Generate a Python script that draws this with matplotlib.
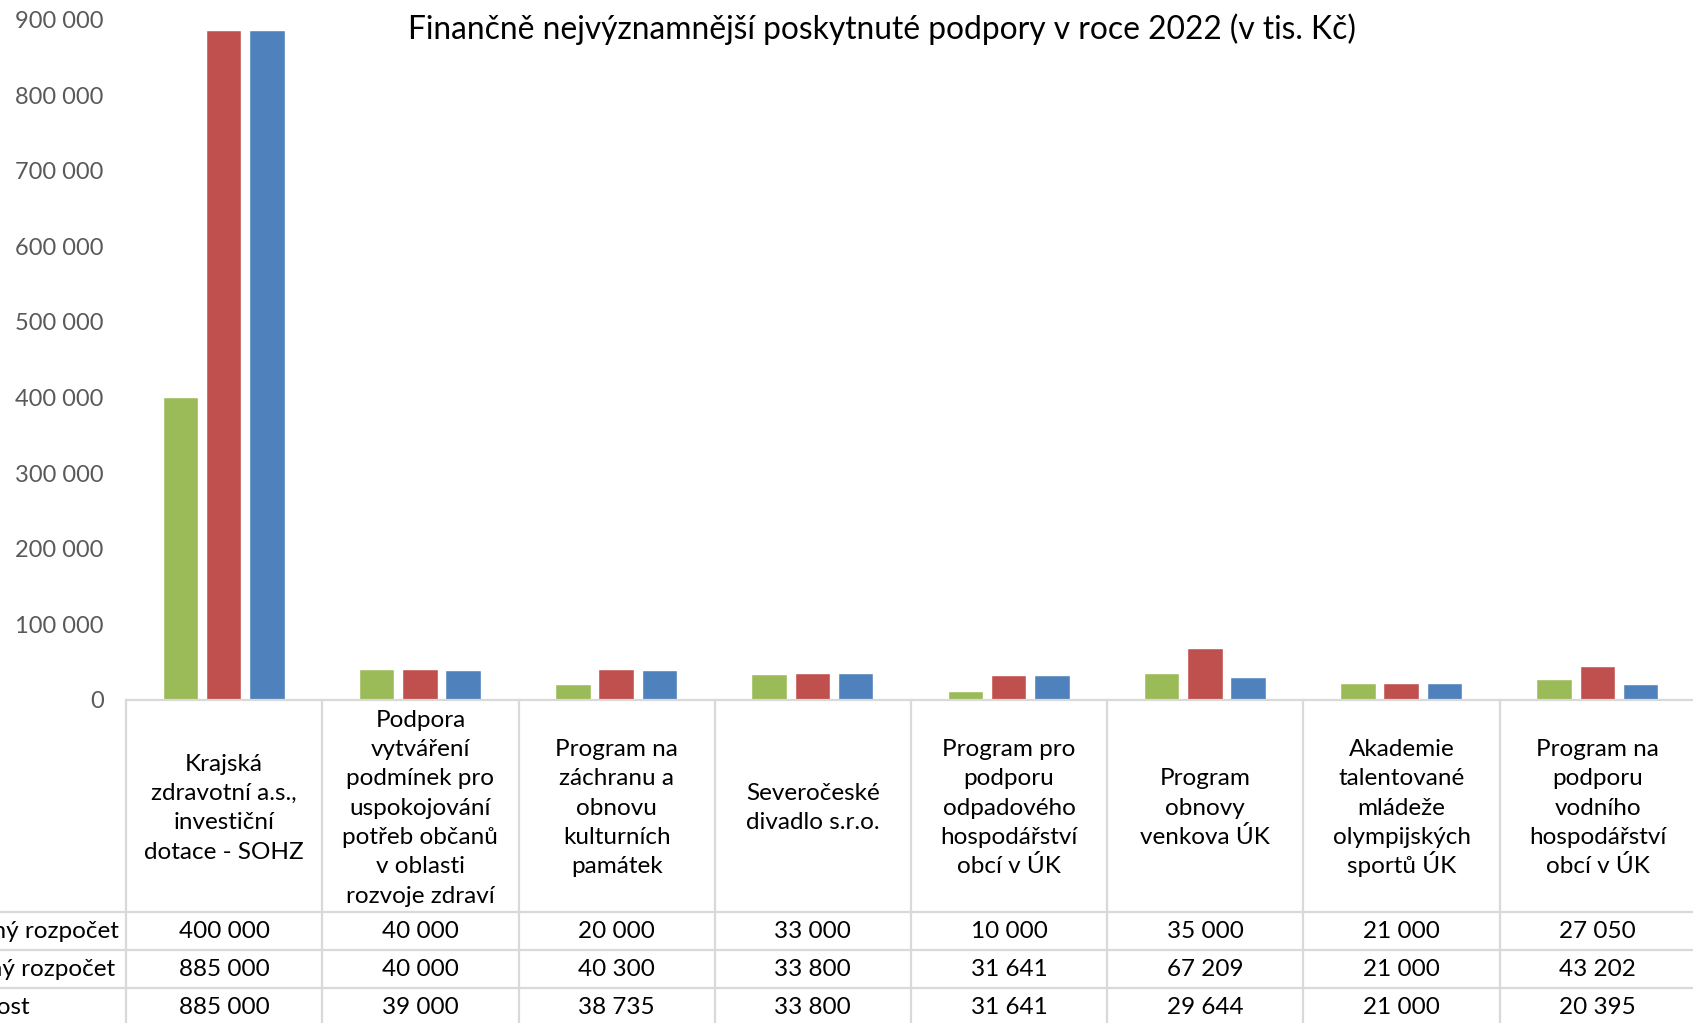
import matplotlib
matplotlib.use("Agg")
import matplotlib.pyplot as plt
from matplotlib.transforms import blended_transform_factory
from matplotlib.lines import Line2D

plt.rcParams['font.family'] = ['Lato', 'DejaVu Sans']

title = "Finančně nejvýznamnější poskytnuté podpory v roce 2022 (v tis. Kč)"
categories = [
    "Krajská\nzdravotní a.s.,\ninvestiční\ndotace - SOHZ",
    "Podpora\nvytváření\npodmínek pro\nuspokojování\npotřeb občanů\nv oblasti\nrozvoje zdraví",
    "Program na\nzáchranu a\nobnovu\nkulturních\npamátek",
    "Severočeské\ndivadlo s.r.o.",
    "Program pro\npodporu\nodpadového\nhospodářství\nobcí v ÚK",
    "Program\nobnovy\nvenkova ÚK",
    "Akademie\ntalentované\nmládeže\nolympijských\nsportů ÚK",
    "Program na\npodporu\nvodního\nhospodářství\nobcí v ÚK",
]
series_names = ["Schválený rozpočet", "Upravený rozpočet", "Skutečnost"]
schvaleny = [400000, 40000, 20000, 33000, 10000, 35000, 21000, 27050]
upraveny = [885000, 40000, 40300, 33800, 31641, 67209, 21000, 43202]
skutecnost = [885000, 39000, 38735, 33800, 31641, 29644, 21000, 20395]
colors = ["#9BBB59", "#C0504D", "#4F81BD"]
yticks = list(range(0, 900001, 100000))

W, H = 1693, 1023
FS = 17.5
fig = plt.figure(figsize=(W / 100, H / 100), dpi=100)
ax = fig.add_axes([126 / W, 1 - 700 / H, (1696 - 126) / W, (700 - 19.4) / H])

x = list(range(len(categories)))
for k, vals in enumerate([schvaleny, upraveny, skutecnost]):
    ax.bar([xi + (k - 1) * 0.22 for xi in x], vals, width=0.176,
           color=colors[k], edgecolor="white", linewidth=0.3, label=series_names[k])

ax.set_xlim(-0.5, len(categories) - 0.5)
ax.set_ylim(0, 900000)
ax.set_yticks(yticks)
ax.set_yticklabels([f"{v:,}".replace(",", " ") for v in yticks], color="#595959", fontsize=17)
ax.set_xticks([])
ax.tick_params(axis="y", length=0, pad=16)
for s in ax.spines.values():
    s.set_visible(False)

fig.text(882 / W, 1 - 29 / H, title, ha="center", va="center", fontsize=22.9, color="#000000")

# data table
bt = blended_transform_factory(ax.transData, fig.transFigure)
fy = lambda p: 1 - p / H
grid_c = "#D9D9D9"
n = len(categories)
fig.add_artist(Line2D([-0.5, n - 0.5], [fy(700), fy(700)], transform=bt, color=grid_c, lw=1.6, clip_on=False))
for yy in [912, 950, 988]:
    fig.add_artist(Line2D([0, 1], [fy(yy), fy(yy)], transform=fig.transFigure, color=grid_c, lw=1.6))
for i in range(n + 1):
    fig.add_artist(Line2D([i - 0.5, i - 0.5], [fy(700), fy(1030)], transform=bt, color=grid_c, lw=1.6, clip_on=False))

# header cells: each line placed with a fixed pitch, block centred in the cell
pitch = 29.35
center = 806
for i, cat in enumerate(categories):
    lines = cat.split("\n")
    m = len(lines)
    for j, ln in enumerate(lines):
        yc = center + (j - (m - 1) / 2) * pitch
        fig.text(i, fy(yc + 8.7), ln, transform=bt, ha="center", va="baseline",
                 fontsize=FS, color="#000000")

row_y = [931, 969, 1007]
for r, vals in enumerate([schvaleny, upraveny, skutecnost]):
    for i, v in enumerate(vals):
        fig.text(i, fy(row_y[r]), f"{v:,}".replace(",", " "), transform=bt, ha="center",
                 va="center", fontsize=FS, color="#000000")

# row labels (left aligned, partly cut by the left edge as in the reference)
renderer = fig.canvas.get_renderer()
tmp = fig.text(0, 0, series_names[0], fontsize=FS)
wpx = tmp.get_window_extent(renderer).width
tmp.remove()
xl = (119 - wpx) / W
for r, name in enumerate(series_names):
    fig.text(xl, fy(row_y[r]), name, ha="left", va="center", fontsize=FS, color="#000000")

fig.savefig("out.png", dpi=100)
